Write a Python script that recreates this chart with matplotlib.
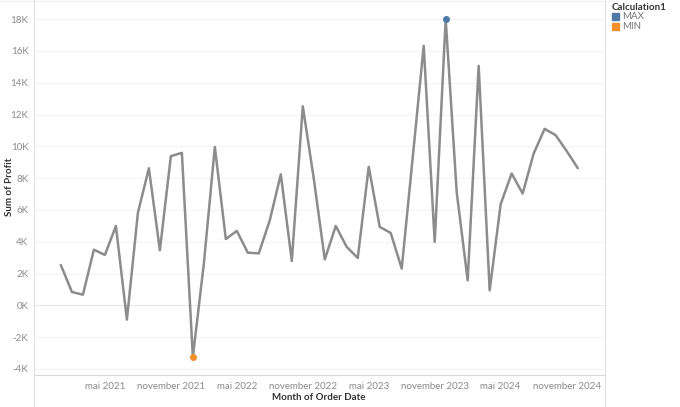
import matplotlib.pyplot as plt
from matplotlib.lines import Line2D
from matplotlib.patches import Rectangle

plt.rcParams['font.family'] = ['Lato', 'DejaVu Sans']

# Monthly sum of profit, Jan 2021 - Dec 2024 (in K)
profit = [2.52, 0.84, 0.67, 3.50, 3.17, 4.99, -0.90, 5.81, 8.62, 3.46, 9.38, 9.59,
          -3.25, 2.62, 9.96, 4.17, 4.68, 3.31, 3.27, 5.35, 8.24, 2.79, 12.52, 7.97,
          2.89, 4.99, 3.67, 2.98, 8.71, 4.93, 4.55, 2.31, 9.30, 16.32, 3.99, 18.0,
          7.13, 1.57, 15.06, 0.94, 6.36, 8.29, 7.03, 9.54, 11.10, 10.70, 9.71, 8.64]
profit = [p * 1000 for p in profit]
months = list(range(len(profit)))

tick_pos = [4, 10, 16, 22, 28, 34, 40, 46]
tick_labels = ["mai 2021", "november 2021", "mai 2022", "november 2022",
               "mai 2023", "november 2023", "mai 2024", "november 2024"]
y_ticks = list(range(-4000, 18001, 2000))
y_labels = [f"{v // 1000}K" for v in y_ticks]

line_color = "#8c8c8c"
max_color = "#4e79a7"
min_color = "#f28e2b"
tick_color = "#8a8a8a"

fig = plt.figure(figsize=(6.8, 4.07), dpi=100)
ax = fig.add_axes([34 / 680, 1 - 375 / 407, (604 - 34) / 680, 375 / 407])

for v in y_ticks:
    ax.axhline(v, color="#e6e6e6" if v == 0 else "#f3f3f3", lw=0.8, zorder=0)

ax.plot(months, profit, color=line_color, lw=1.8, zorder=2)

i_max = profit.index(max(profit))
i_min = profit.index(min(profit))
ax.scatter([months[i_max]], [profit[i_max]], color=max_color, s=16, zorder=3)
ax.scatter([months[i_min]], [profit[i_min]], color=min_color, s=16, zorder=3)

ax.set_xlim(-2.45, 49.4)
ax.set_ylim(-4380, 19200)
ax.set_xticks(tick_pos)
ax.set_xticklabels(tick_labels)
ax.set_yticks(y_ticks)
ax.set_yticklabels(y_labels)
ax.tick_params(axis="both", length=0, labelsize=7, labelcolor=tick_color, pad=4)
ax.tick_params(axis="x", pad=5)

for side in ["top", "right", "left"]:
    ax.spines[side].set_visible(False)
ax.spines["bottom"].set_color("#d9d9d9")
ax.spines["bottom"].set_linewidth(0.8)

# axis titles placed in figure space, as in the dashboard
fig.text(319 / 680, 1 - 398 / 407, "Month of Order Date", fontsize=7, fontweight="bold",
         color="#333333", ha="center", va="center")
fig.text(10 / 680, 1 - 187 / 407, "Sum of Profit", fontsize=7, fontweight="bold",
         color="#333333", ha="center", va="center", rotation=90)

# frame lines like the dashboard pane
fig.add_artist(Line2D([34 / 680, 34 / 680], [0, 1], color="#e0e0e0", lw=0.8))
fig.add_artist(Line2D([605 / 680, 605 / 680], [0, 1], color="#e0e0e0", lw=0.8))
fig.add_artist(Line2D([0, 605 / 680], [0.998, 0.998], color="#ececec", lw=0.8))

# legend
fig.text(612 / 680, 1 - 7 / 407, "Calculation1", fontsize=7, color="#333333",
         fontweight="bold", va="center", ha="left")
for k, (name, col) in enumerate([("MAX", max_color), ("MIN", min_color)]):
    yc = 16.5 + k * 10
    fig.add_artist(Rectangle((612 / 680, 1 - (yc + 3.5) / 407), 7 / 680, 7 / 407,
                             color=col, transform=fig.transFigure))
    fig.text(622 / 680, 1 - yc / 407, name, fontsize=7, color="#777777",
             va="center", ha="left")

fig.savefig("out.png", dpi=100)
